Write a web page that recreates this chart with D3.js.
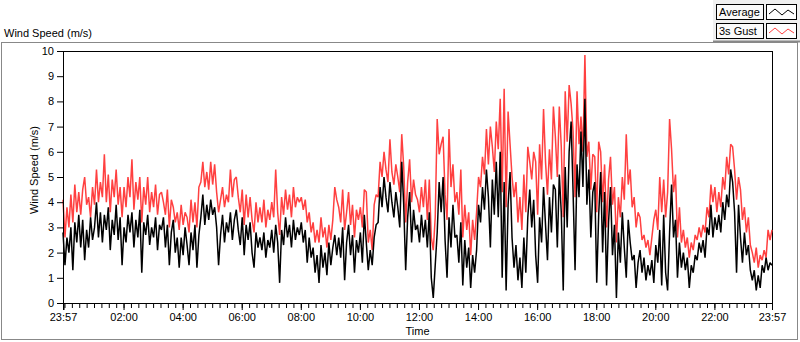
<!DOCTYPE html>
<html>
<head>
<meta charset="utf-8">
<script src="https://cdn.jsdelivr.net/npm/d3@7"></script>
<style>
  body { margin: 0; background: #fff; }
  svg text { font-family: "Liberation Sans", Arial, sans-serif; font-size: 11px; fill: #000; }
</style>
</head>
<body>
<div id="chart"></div>
<script>
// one sample every 4 minutes, 23:57 -> 23:57 next day
const sampleMinutes = 4;

const averageSpeed = [
    2.8, 1.5, 2.6, 2.0, 3.0, 1.3, 3.2, 2.4, 3.5, 2.2,
    3.3, 1.7, 2.9, 2.2, 3.4, 2.5, 3.0, 4.0, 2.6, 3.6,
    2.4, 3.5, 2.9, 3.8, 2.1, 3.3, 2.7, 3.9, 2.5, 3.4,
    1.5, 3.0, 2.4, 3.5, 2.8, 3.6, 2.2, 3.3, 2.6, 3.7,
    1.2, 3.2, 2.7, 3.5, 2.3, 3.0, 2.6, 3.4, 2.1, 3.1,
    2.9, 3.4, 2.2, 3.1, 1.5, 2.8, 3.3, 2.0, 2.6, 1.4,
    2.6, 1.9, 3.0, 2.3, 1.5, 2.8, 2.1, 3.1, 1.4, 2.7,
    3.4, 4.3, 3.1, 3.9, 3.3, 4.1, 3.5, 3.8, 3.0, 1.5,
    2.7, 3.5, 2.4, 3.2, 2.8, 3.6, 2.5, 3.3, 3.7, 2.9,
    2.3, 3.4, 1.9, 3.1, 2.5, 3.2, 2.0, 1.4, 2.8, 2.2,
    2.6, 2.1, 2.8, 1.8, 2.5, 2.2, 2.9, 2.0, 3.1, 2.4,
    0.8, 2.9, 2.3, 3.4, 2.6, 3.1, 2.2, 3.3, 2.5, 3.0,
    2.7, 3.2, 2.4, 2.9, 1.6, 2.6, 1.8, 2.2, 1.2, 1.9,
    0.8, 2.3, 1.4, 2.0, 1.1, 2.4, 1.5, 2.2, 2.7, 1.9,
    2.6, 1.8, 3.0, 0.9, 2.4, 3.1, 1.9, 2.7, 1.2, 2.5,
    2.0, 2.8, 1.6, 3.5, 2.4, 1.3, 2.1, 1.5, 2.6, 3.1,
    3.2, 4.6, 3.8, 5.0, 4.2, 3.6, 4.8, 4.0, 3.4, 4.4,
    3.8, 3.0, 5.6, 3.9, 1.3, 3.4, 4.4, 2.4, 3.7, 2.9,
    3.1, 2.4, 3.5, 2.6, 3.3, 2.2, 3.6, 1.0, 0.2, 1.5,
    2.8, 4.8, 3.6, 5.0, 2.5, 1.0, 3.4, 2.2, 3.9, 2.6,
    2.7, 1.6, 3.2, 0.7, 2.5, 1.4, 2.2, 0.6, 1.9, 1.2,
    2.1, 3.9, 3.2, 4.6, 3.7, 5.3, 4.2, 2.2, 4.9, 3.5,
    5.6, 3.4, 6.0, 1.0, 4.8, 0.5, 3.9, 5.2, 2.6, 1.4,
    2.3, 0.9, 1.8, 0.6, 2.6, 1.2, 3.4, 4.5, 3.0, 4.1,
    1.9, 0.8, 3.4, 2.4, 4.6, 3.1, 1.7, 4.2, 2.8, 4.7,
    4.5, 2.2, 5.1, 3.6, 0.5, 5.4, 3.0, 6.0, 7.2, 4.4,
    1.3, 5.5, 4.2, 6.8, 4.6, 8.1, 3.9, 5.3, 2.6, 4.4,
    4.8, 0.8, 3.5, 5.2, 2.0, 4.4, 0.7, 3.2, 4.6, 1.9,
    3.1, 0.2, 2.8, 1.6, 3.6, 2.2, 1.0, 3.3, 2.4, 1.7,
    1.9, 0.6, 1.6, 2.1, 1.2, 1.8, 0.9, 1.5, 1.1, 1.7,
    0.8, 2.3, 1.6, 2.9, 0.7, 3.5, 1.2, 0.5, 2.8, 4.7,
    2.6, 3.3, 1.0, 2.4, 1.4, 2.0, 1.3, 1.8, 0.6, 1.5,
    1.2, 1.9, 1.7, 2.4, 2.0, 2.5, 1.8, 3.0, 2.7, 3.9,
    2.6, 3.4, 2.9, 3.5, 2.8, 4.0, 3.3, 4.3, 3.8, 5.3,
    4.8, 3.6, 1.2, 3.9, 2.6, 1.6, 2.8, 1.9, 2.3, 1.3,
    0.9, 1.3, 0.5, 1.1, 0.6, 1.5, 1.2, 1.8, 1.3, 1.6,
    1.5
];

const gustSpeed = [
    4.1, 2.6, 3.8, 3.0, 4.3, 3.2, 4.7, 3.6, 4.4, 3.5,
    4.5, 5.0, 3.9, 4.2, 3.4, 4.6, 3.9, 5.3, 4.0, 4.8,
    4.2, 5.9, 4.0, 5.1, 3.6, 4.9, 4.2, 5.3, 3.9, 4.6,
    3.4, 4.6, 3.8, 5.0, 4.2, 5.7, 3.7, 4.8, 4.1, 5.0,
    3.2, 4.6, 3.9, 5.0, 3.6, 4.4, 3.8, 4.7, 3.5, 4.3,
    4.4, 4.0, 3.5, 4.5, 3.0, 4.1, 3.8, 3.2, 3.6, 2.9,
    3.9, 3.1, 3.6, 3.4, 2.8, 4.1, 3.2, 4.0, 3.0, 4.6,
    4.8, 5.6, 4.6, 5.2, 4.5, 5.6, 4.7, 5.5, 4.4, 3.6,
    4.1, 4.6, 3.8, 4.3, 4.0, 5.3, 4.2, 4.9, 5.0, 4.2,
    3.6, 4.5, 3.1, 4.3, 3.4, 4.2, 3.3, 2.8, 4.0, 3.2,
    3.8, 3.2, 4.1, 3.0, 3.7, 3.3, 4.0, 3.4, 5.3, 3.6,
    2.7, 4.2, 3.5, 4.5, 3.7, 4.3, 3.4, 4.6, 3.8, 4.2,
    4.0, 4.2, 3.7, 4.1, 3.2, 3.6, 2.8, 3.2, 2.4, 2.9,
    2.4, 3.4, 2.6, 3.0, 2.2, 3.1, 2.5, 3.3, 4.6, 4.1,
    3.8, 3.2, 4.5, 2.9, 3.6, 4.4, 3.1, 3.9, 2.6, 3.7,
    3.3, 3.8, 3.0, 4.5, 4.4, 2.4, 2.9, 2.1, 3.9, 4.3,
    4.2, 5.6, 5.0, 6.0, 5.3, 4.8, 6.5, 5.2, 4.7, 5.5,
    5.0, 4.4, 6.7, 5.4, 3.2, 4.8, 5.7, 4.0, 4.9, 4.3,
    4.1, 3.6, 4.6, 3.8, 4.9, 3.3, 4.9, 2.6, 2.1, 3.4,
    7.3, 5.9, 6.3, 6.6, 4.3, 3.3, 6.9, 4.6, 5.5, 4.0,
    4.4, 3.5, 5.3, 2.6, 3.9, 2.9, 3.6, 1.9, 3.3, 2.5,
    3.6, 5.0, 4.6, 5.8, 5.1, 6.9, 5.5, 7.0, 6.2, 5.2,
    7.2, 6.1, 8.1, 4.4, 8.5, 3.8, 7.6, 6.3, 5.0, 4.2,
    4.8, 3.2, 4.2, 2.9, 5.1, 3.6, 6.2, 5.6, 4.9, 6.0,
    5.6, 3.5, 6.3, 4.9, 7.7, 5.6, 4.3, 6.1, 4.9, 7.8,
    6.6, 5.0, 7.8, 6.2, 3.4, 8.4, 6.4, 8.65, 7.9, 6.8,
    4.2, 8.4, 6.3, 7.4, 6.0, 9.84, 5.8, 6.4, 4.5, 5.9,
    5.8, 3.6, 6.4, 6.0, 4.0, 5.5, 3.0, 4.9, 5.8, 3.9,
    4.6, 2.4, 4.2, 3.4, 5.0, 4.1, 6.7, 4.7, 5.3, 3.8,
    4.2, 3.0, 3.6, 3.4, 2.5, 2.7, 2.2, 2.5, 1.9, 2.6,
    3.3, 3.7, 2.9, 5.0, 3.6, 4.9, 3.4, 4.4, 7.3, 6.1,
    4.4, 5.1, 2.6, 3.8, 2.4, 2.9, 2.2, 2.6, 1.8, 2.4,
    2.1, 2.7, 2.5, 3.0, 2.6, 3.1, 2.8, 3.8, 3.4, 4.7,
    4.0, 4.6, 3.6, 4.4, 3.8, 5.0, 4.5, 5.8, 5.1, 6.3,
    6.2, 5.3, 4.1, 5.0, 4.5, 3.3, 3.8, 2.8, 3.4, 2.3,
    2.0, 1.6, 2.2, 1.4, 1.9, 1.7, 2.1, 1.8, 2.9, 2.5,
    2.9
];

const majorHours = [2, 4, 6, 8, 10, 12, 14, 16, 18, 20, 22];
const timeTickLabels = ['23:57', '02:00', '04:00', '06:00', '08:00', '10:00', '12:00',
    '14:00', '16:00', '18:00', '20:00', '22:00', '23:57'];
const speedTicks = [0, 1, 2, 3, 4, 5, 6, 7, 8, 9, 10];
const legendItems = [
    { name: 'Average', color: '#000000' },
    { name: '3s Gust', color: '#ff4040' }
];

const startTime = new Date(2020, 0, 1, 23, 57);
const endTime = new Date(startTime.getTime() + 1440 * 60000);
const timeAt = i => new Date(startTime.getTime() + i * sampleMinutes * 60000);

const avgData = averageSpeed.map((v, i) => ({ t: timeAt(i), v: v }));
const gustData = gustSpeed.map((v, i) => ({ t: timeAt(i), v: v }));

const W = 800, H = 342;
const plot = { left: 63, right: 772, top: 51, bottom: 303 };

const svg = d3.select('#chart')
    .append('svg')
    .attr('width', W)
    .attr('height', H);

// outer frame
svg.append('rect')
    .attr('x', 1.5).attr('y', 42.5)
    .attr('width', 796).attr('height', 297)
    .attr('fill', 'none')
    .attr('stroke', '#888')
    .attr('stroke-width', 1);

svg.append('text')
    .attr('x', 4)
    .attr('y', 37)
    .text('Wind Speed (m/s)');

// legend panel
const legend = svg.append('g');
legend.append('rect')
    .attr('x', 713).attr('y', 0)
    .attr('width', 87).attr('height', 42)
    .attr('fill', '#f0f0f0');
legend.append('line')
    .attr('x1', 713).attr('x2', 800)
    .attr('y1', 41.5).attr('y2', 41.5)
    .attr('stroke', '#888')
    .attr('stroke-width', 2);

legend.selectAll('.legend-item')
    .data(legendItems)
    .enter()
    .append('g')
    .attr('class', 'legend-item')
    .attr('transform', (d, i) => `translate(0, ${4 + i * 19})`)
    .each(function (d) {
        const g = d3.select(this);
        g.append('rect')
            .attr('x', 716.5).attr('y', 0.5)
            .attr('width', 47).attr('height', 15)
            .attr('fill', '#fafafa')
            .attr('stroke', '#000');
        g.append('text')
            .attr('x', 719)
            .attr('y', 12)
            .text(d.name);
        g.append('rect')
            .attr('x', 766.5).attr('y', 0.5)
            .attr('width', 30).attr('height', 15)
            .attr('fill', '#fff')
            .attr('stroke', '#000');
        g.append('polyline')
            .attr('points', '769,10 775,5 782,11 788,6 794,10')
            .attr('fill', 'none')
            .attr('stroke', d.color)
            .attr('stroke-width', 1);
    });

const x = d3.scaleTime()
    .domain([startTime, endTime])
    .range([plot.left, plot.right]);

const y = d3.scaleLinear()
    .domain([0, 10])
    .range([plot.bottom, plot.top]);

// plot frame
svg.append('rect')
    .attr('x', plot.left + 0.5).attr('y', plot.top + 0.5)
    .attr('width', plot.right - plot.left).attr('height', plot.bottom - plot.top)
    .attr('fill', '#fff')
    .attr('stroke', '#000');

const line = d3.line()
    .x(d => x(d.t))
    .y(d => y(d.v));

// gust first, average drawn on top
svg.append('path')
    .datum(gustData)
    .attr('d', line)
    .attr('fill', 'none')
    .attr('stroke', '#ff4040')
    .attr('stroke-width', 1.5)
    .attr('stroke-linejoin', 'miter')
    .attr('stroke-miterlimit', 2);

svg.append('path')
    .datum(avgData)
    .attr('d', line)
    .attr('fill', 'none')
    .attr('stroke', '#000')
    .attr('stroke-width', 1.5)
    .attr('stroke-linejoin', 'miter')
    .attr('stroke-miterlimit', 2);

// y axis
const yAxis = svg.append('g')
    .attr('transform', `translate(${plot.left},0)`)
    .call(d3.axisLeft(y).tickValues(speedTicks).tickSize(6).tickPadding(3));
yAxis.select('.domain').attr('stroke', '#000');
yAxis.selectAll('text').style('font-size', '11px').style('font-family', '"Liberation Sans", Arial, sans-serif');

svg.append('text')
    .attr('transform', 'rotate(-90)')
    .attr('x', -170)
    .attr('y', 38)
    .attr('text-anchor', 'middle')
    .text('Wind Speed (m/s)');

// x axis: minor ticks every 15 minutes, major ticks every 2 hours
const minorTicks = d3.timeMinute.every(15).range(startTime, endTime);
svg.append('g')
    .attr('transform', `translate(0,${plot.bottom + 1})`)
    .call(d3.axisBottom(x).tickValues(minorTicks).tickSize(4).tickFormat(''))
    .call(g => g.select('.domain').remove());

const majorTicks = [startTime]
    .concat(majorHours.map(h => new Date(2020, 0, 2, h, 0)))
    .concat([endTime]);

const xAxis = svg.append('g')
    .attr('transform', `translate(0,${plot.bottom + 1})`)
    .call(d3.axisBottom(x)
        .tickValues(majorTicks)
        .tickSize(6)
        .tickPadding(3)
        .tickFormat((d, i) => timeTickLabels[i]));
xAxis.select('.domain').remove();
xAxis.selectAll('line').attr('stroke', '#000');
xAxis.selectAll('text').style('font-size', '11px').style('font-family', '"Liberation Sans", Arial, sans-serif');

// thicker tick at the first sample
svg.append('line')
    .attr('x1', x(startTime) + 1).attr('x2', x(startTime) + 1)
    .attr('y1', plot.bottom + 1).attr('y2', plot.bottom + 7)
    .attr('stroke', '#000')
    .attr('stroke-width', 1);

svg.append('text')
    .attr('x', (plot.left + plot.right) / 2)
    .attr('y', 335)
    .attr('text-anchor', 'middle')
    .text('Time');
</script>
</body>
</html>
